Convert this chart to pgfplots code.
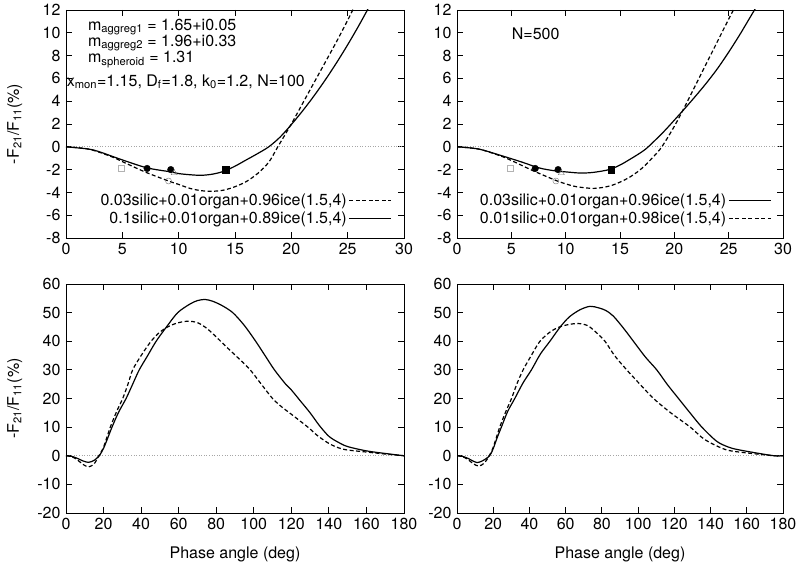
\documentclass[border=0pt]{standalone}
\usepackage{fontspec}
\setmainfont{TeX Gyre Heros}
\usepackage{pgfplots}
\pgfplotsset{compat=1.18}
\pgfplotsset{
  gp/.style={
    scale only axis,
    tick align=inside,
    major tick length=6pt,
    axis line style={line width=0.9pt},
    every tick/.style={line width=0.8pt, black},
    /pgf/number format/assume math mode=true,
    tick label style={font=\fontsize{16}{18}\selectfont},
    label style={font=\fontsize{16}{18}\selectfont},
    legend style={font=\fontsize{16}{17}\selectfont, draw=none, fill=none, inner sep=0pt, row sep=0pt, legend cell align=right},
    legend plot pos=right,
    legend image code/.code={\draw[##1] (0pt,0pt) -- (42pt,0pt);},
  },
  top/.style={gp, xmin=0,xmax=30,ymin=-8,ymax=12, xtick={0,5,...,30}, ytick={-8,-6,...,12}, height=228pt},
  bot/.style={gp, xmin=0,xmax=180,ymin=-20,ymax=60, xtick={0,20,...,180}, ytick={-20,-10,...,60}, height=229pt},
  solidc/.style={black, line width=1.2pt, smooth, tension=0.5},
  dashc/.style={black, line width=1.2pt, dash pattern=on 4pt off 2.5pt, smooth, tension=0.5},
  zl/.style={gray!70, dotted, line width=0.6pt, forget plot},
}
\newcommand{\fs}{\fontsize{16}{18}\selectfont}
\begin{document}
\fs
\begin{tikzpicture}
\useasboundingbox (0pt,0pt) rectangle (800pt,565pt);
% ---------------- top left ----------------
\begin{axis}[top, at={(66pt,327pt)}, anchor=south west, width=338pt,
  ylabel={-F\textsubscript{21}/F\textsubscript{11}(\%)},
  ylabel style={at={(axis description cs:-0.152,0.5)}, anchor=center},
  legend style={at={(rel axis cs:0.965,0.045)}, anchor=south east}]
\addplot[zl] coordinates {(0,0) (30,0)};
\addplot[dashc] coordinates {(0,0) (2,-0.2) (4,-0.85) (5,-1.3) (7,-2.2) (9.1,-3.0) (10,-3.3) (11,-3.65) (12,-3.85) (13,-3.9) (14,-3.8) (15,-3.5) (16,-3.05) (17,-2.35) (18,-1.35) (18.8,0) (20,2.0) (21,3.8) (22,5.6) (23,7.4) (24,9.2) (25,11.1) (25.6,12.3)};
\addlegendentry{0.03silic+0.01organ+0.96ice(1.5,4)}
\addplot[solidc] coordinates {(0,0) (2,-0.2) (3,-0.45) (5,-1.15) (7.2,-1.85) (9.3,-2.2) (10,-2.35) (11,-2.45) (12,-2.5) (13,-2.4) (14,-2.15) (15,-1.7) (16,-1.15) (17,-0.6) (18,0) (19,0.85) (20,1.95) (21,3.15) (22,4.45) (23,5.85) (24,7.35) (25,8.95) (26,10.65) (27,12.45)};
\addlegendentry{0.1silic+0.01organ+0.89ice(1.5,4)}
\addplot[only marks, mark=square, mark size=3pt, gray!60, forget plot] coordinates {(4.9,-1.9)};
\addplot[only marks, mark=*, mark size=3.3pt, black, forget plot] coordinates {(7.2,-1.9) (9.3,-2.0)};
\addplot[only marks, mark=square*, mark size=3.3pt, black, forget plot] coordinates {(14.2,-2.0)};
\addplot[only marks, mark=triangle, mark size=3.5pt, black!55, forget plot] coordinates {(9.6,-2.3)};
\addplot[only marks, mark=o, mark size=3pt, black!55, forget plot] coordinates {(9.1,-3.0)};
\node[anchor=west, inner sep=0pt] at (axis cs:1.95,10.5) {m\textsubscript{aggreg1} = 1.65+i0.05};
\node[anchor=west, inner sep=0pt] at (axis cs:1.95,9.1) {m\textsubscript{aggreg2} = 1.96+i0.33};
\node[anchor=west, inner sep=0pt] at (axis cs:1.95,7.65) {m\textsubscript{spheroid} = 1.31};
\node[anchor=west, inner sep=0pt] at (axis cs:0.05,5.7) {x\textsubscript{mon}=1.15, D\textsubscript{f}=1.8, k\textsubscript{0}=1.2, N=100};
\end{axis}
% ---------------- top right ----------------
\begin{axis}[top, at={(457pt,327pt)}, anchor=south west, width=326pt,
  legend style={at={(rel axis cs:0.965,0.045)}, anchor=south east}]
\addplot[zl] coordinates {(0,0) (30,0)};
\addplot[solidc] coordinates {(0,0) (2,-0.2) (4,-0.75) (6,-1.35) (7.2,-1.75) (8,-1.95) (9.3,-2.15) (10,-2.2) (11.3,-2.3) (12.5,-2.25) (14,-2.0) (15,-1.6) (16,-1.05) (17,-0.45) (17.6,0) (19,1.3) (20.2,2.55) (21,3.4) (22,4.5) (23,5.65) (24,6.9) (25,8.3) (26,9.8) (27,11.4) (28,13.0)};
\addlegendentry{0.03silic+0.01organ+0.96ice(1.5,4)}
\addplot[dashc] coordinates {(0,0) (2,-0.2) (4,-0.8) (5,-1.2) (7,-2.1) (9.1,-2.95) (10,-3.25) (11,-3.5) (12.6,-3.65) (14,-3.45) (15,-3.1) (16,-2.6) (17,-1.9) (18,-0.95) (18.85,0) (20,1.8) (21,3.6) (22,5.5) (23,7.4) (24,9.3) (25,11.2) (25.6,12.3)};
\addlegendentry{0.01silic+0.01organ+0.98ice(1.5,4)}
\addplot[only marks, mark=square, mark size=3pt, gray!60, forget plot] coordinates {(4.9,-1.9)};
\addplot[only marks, mark=*, mark size=3.3pt, black, forget plot] coordinates {(7.2,-1.9) (9.3,-2.0)};
\addplot[only marks, mark=square*, mark size=3.3pt, black, forget plot] coordinates {(14.2,-2.0)};
\addplot[only marks, mark=triangle, mark size=3.5pt, black!55, forget plot] coordinates {(9.6,-2.3)};
\addplot[only marks, mark=o, mark size=3pt, black!55, forget plot] coordinates {(9.1,-3.0)};
\node[anchor=west, inner sep=0pt] at (axis cs:5.03,9.95) {N=500};
\end{axis}
% ---------------- bottom left ----------------
\begin{axis}[bot, at={(66pt,52pt)}, anchor=south west, width=338pt,
  ylabel={-F\textsubscript{21}/F\textsubscript{11}(\%)},
  ylabel style={at={(axis description cs:-0.152,0.5)}, anchor=center},
  xlabel={Phase angle (deg)},
  xlabel style={at={(axis description cs:0.5,-0.183)}, anchor=center}]
\addplot[zl] coordinates {(0,0) (180,0)};
\addplot[solidc] coordinates {(0,0) (3,-0.2) (6,-0.9) (9,-1.8) (12,-2.3) (15,-1.6) (17.7,0) (20,2.6) (22,5.8) (24.5,10) (28,15.2) (32,20) (35.5,25) (39,30) (43.5,35) (48,40) (53.5,45) (59.5,50) (66,53) (70,54.2) (74,54.6) (78,54) (83,52.5) (88.8,50) (95,45.5) (101,40) (106,35) (111,30) (117,25) (120,23) (125,19) (130,15) (135,10.5) (140,6.8) (145,4.7) (150,3.2) (160,1.7) (170,0.8) (180,0)};
\addplot[dashc] coordinates {(0,0) (3,-0.3) (6,-1.4) (9,-3.0) (12,-3.9) (15,-2.8) (17.5,0) (20,3) (23.6,10) (27,15.5) (30.2,20) (33,25) (35.5,30) (40,35) (45.3,40) (50,43.2) (55,45.3) (60,46.5) (65,47) (70,46.5) (75,44.5) (80,41.5) (85,38.3) (90,35.2) (97.7,30.3) (104,25) (110,20) (115,17) (120,14.5) (128.8,10) (134,7) (140,4.3) (145,2.8) (150,2) (160,1.3) (170,0.6) (180,0)};
\end{axis}
% ---------------- bottom right ----------------
\begin{axis}[bot, at={(457pt,52pt)}, anchor=south west, width=326pt,
  xlabel={Phase angle (deg)},
  xlabel style={at={(axis description cs:0.5,-0.183)}, anchor=center}]
\addplot[zl] coordinates {(0,0) (180,0)};
\addplot[solidc] coordinates {(0,0) (3,-0.2) (6,-0.9) (9,-1.9) (11,-2.4) (14,-1.8) (18,0) (20,2.5) (22,6) (24.5,10) (28,15.5) (31.9,20) (36.5,25.5) (41.1,30) (46,35.5) (51.3,40) (57,45) (62,48.5) (67.9,51) (73.4,52.2) (78,51.7) (82,50.8) (86.3,48.8) (92,44.5) (97.4,40) (104,34.5) (110.3,30) (116,25) (122.3,20) (128,15.5) (135.2,10) (143.5,5) (150,3) (154.6,2.2) (165,1) (175,0) (180,0)};
\addplot[dashc] coordinates {(0,0) (3,-0.3) (6,-1.3) (9,-2.8) (12,-3.6) (15,-2.6) (17.8,0) (20,3) (23.6,10) (27,15.5) (30.1,20) (33,25) (36.5,30) (41,35) (45.8,40) (52,43.5) (58,45.3) (66,46.2) (72,45.5) (77,43) (81.7,40) (87,35) (93.7,30) (101,25) (108.5,20) (118,15) (128.8,10) (135,6.5) (140,4.5) (149,2) (160,1) (175,0) (180,0)};
\end{axis}
\end{tikzpicture}
\end{document}
